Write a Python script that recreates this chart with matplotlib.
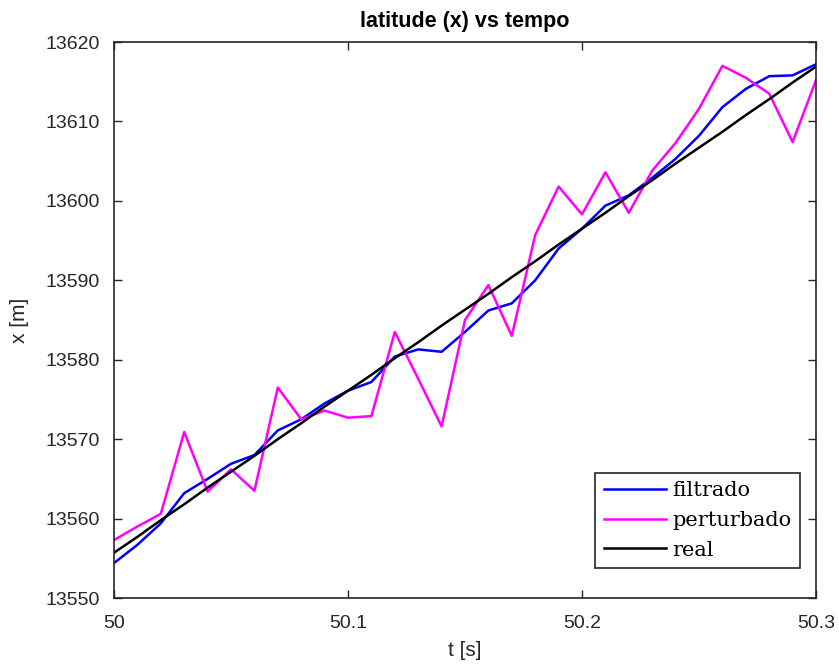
import numpy as np
import matplotlib
matplotlib.use("Agg")
import matplotlib.pyplot as plt

# tempo [s]
t = np.round(np.arange(31) * 0.01 + 50, 2)

filtrado = [13554.4, 13556.7, 13559.4, 13563.2, 13565.0, 13566.9, 13568.0, 13571.1,
            13572.5, 13574.5, 13576.1, 13577.2, 13580.4, 13581.3, 13581.0, 13583.5,
            13586.2, 13587.1, 13590.0, 13594.0, 13596.5, 13599.4, 13600.7, 13602.9,
            13605.3, 13608.2, 13611.8, 13614.1, 13615.7, 13615.8, 13617.2]

perturbado = [13557.3, 13559.0, 13560.6, 13570.9, 13563.4, 13566.2, 13563.5, 13576.5,
              13572.5, 13573.6, 13572.7, 13572.9, 13583.5, 13577.6, 13571.6, 13585.0,
              13589.4, 13583.0, 13595.7, 13601.8, 13598.3, 13603.6, 13598.5, 13603.8,
              13607.3, 13611.6, 13617.0, 13615.5, 13613.5, 13607.4, 13615.2]

real = [13555.7, 13557.7, 13559.8, 13561.8, 13563.9, 13565.9, 13567.9, 13570.0,
        13572.0, 13574.1, 13576.1, 13578.1, 13580.2, 13582.2, 13584.3, 13586.3,
        13588.3, 13590.4, 13592.4, 13594.5, 13596.5, 13598.5, 13600.6, 13602.6,
        13604.7, 13606.7, 13608.7, 13610.8, 13612.8, 13614.9, 13616.9]

plt.rcParams['font.family'] = 'Liberation Sans'

fig = plt.figure(figsize=(8.39, 6.66), dpi=100)
ax = fig.add_axes([0.1359, 0.1021, 0.8367, 0.8348])

ax.plot(t, filtrado, color="#0000ff", lw=1.8, label="filtrado")
ax.plot(t, perturbado, color="#ff00ff", lw=1.8, label="perturbado")
ax.plot(t, real, color="black", lw=1.8, label="real")

ax.set_xlim(50, 50.3)
ax.set_ylim(13550, 13620)
ax.set_xticks([50, 50.1, 50.2, 50.3])
ax.set_xticklabels(["50", "50.1", "50.2", "50.3"])
ax.set_yticks(np.arange(13550, 13621, 10))

ax.tick_params(direction="in", top=True, right=True, labelsize=14,
               length=6, width=1, colors="#262626")
ax.tick_params(axis="x", pad=12)
ax.tick_params(axis="y", pad=10)
for s in ax.spines.values():
    s.set_color("#262626")
    s.set_linewidth(1.2)

ax.set_xlabel("t [s]", fontsize=15, color="#262626", labelpad=7)
ax.set_ylabel("x [m]", fontsize=15, color="#262626", labelpad=12)
ax.set_title("latitude (x) vs tempo", fontsize=15.5, fontweight="bold", pad=11)

leg = ax.legend(loc="lower right", bbox_to_anchor=(0.977, 0.054),
                prop={"family": "DejaVu Serif", "size": 15},
                fancybox=False, edgecolor="#262626", framealpha=1,
                handlelength=3.0, handletextpad=0.3, borderpad=0.4,
                labelspacing=0.52, borderaxespad=0)
leg.get_frame().set_linewidth(1.2)

fig.savefig("out.png", dpi=100)
